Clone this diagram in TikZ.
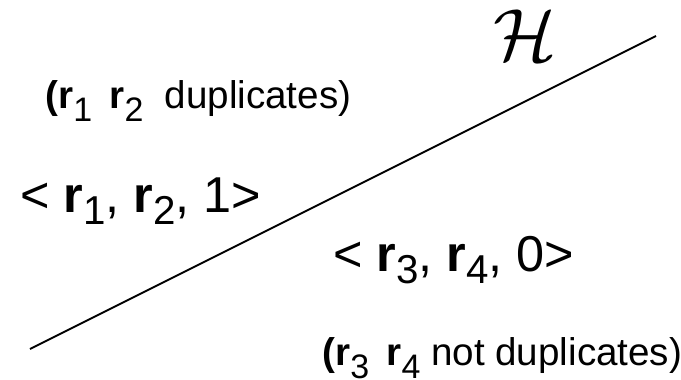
\documentclass[tikz,border=0pt]{standalone}
\usepackage{fontspec}
\setmainfont{Liberation Sans}
\usetikzlibrary{positioning}
\definecolor{Ink}{HTML}{000000}
\newcommand{\rvec}[1]{\textbf{r}\raisebox{-0.24em}{\scalebox{0.8}{#1}}}
\newcommand{\rnote}[1]{\textbf{r}\raisebox{-0.34em}{\scalebox{0.88}{#1}}}
\tikzset{
    pairnode/.style={inner sep=0pt, anchor=base west, text=Ink, font=\fontsize{25.2}{30}\selectfont},
    notenode/.style={inner sep=0pt, anchor=base west, text=Ink, font=\fontsize{19.3}{23}\selectfont},
    planeline/.style={line width=0.9pt, color=Ink},
}

\begin{document}
\begin{tikzpicture}[x=0.5pt, y=-0.5pt]
    \useasboundingbox (0,0) rectangle (681,380);
    \coordinate (lineS) at (30,349);
    \coordinate (lineE) at (656,36);
    \draw[planeline] (lineS) -- (lineE);
    \node[text=Ink, inner sep=0pt] (hname) at (525,35) {\scalebox{3.7}{$\mathcal{H}$}};
    \node[notenode] (dupA) at (45,108) {\textbf{(}\rnote{1}\hspace{0.45em}\rnote{2}\hspace{0.55em}duplicates)};
    \node[pairnode] (pairA) at (20,212) {< \rvec{1}, \rvec{2}, 1>};
    \node[pairnode] (pairB) at (333,271) {< \rvec{3}, \rvec{4}, 0>};
    \node[notenode] (dupB) at (322,365) {\textbf{(}\rnote{3}\hspace{0.45em}\rnote{4} not duplicates)};
\end{tikzpicture}
\end{document}
